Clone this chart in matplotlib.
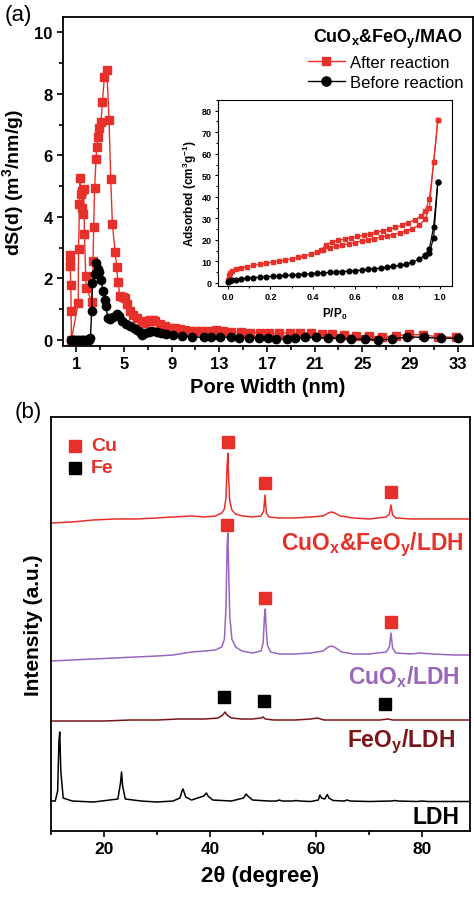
import matplotlib
matplotlib.use("Agg")
from matplotlib import pyplot as plt
from matplotlib.ticker import MultipleLocator, FormatStrFormatter

plt.rcParams['font.family'] = ['Liberation Sans', 'DejaVu Sans']
plt.rcParams['mathtext.fontset'] = 'custom'
plt.rcParams['mathtext.rm'] = 'Liberation Sans:bold'
plt.rcParams['mathtext.bf'] = 'Liberation Sans:bold'
plt.rcParams['mathtext.default'] = 'bf'

RED = '#e8302a'
PURPLE = '#9a66bd'
DARKRED = '#7a1518'

# ---- (a) pore size distribution ----
after_w = [0.45, 0.48, 0.5, 0.55, 0.58, 0.6, 1.17, 1.2, 1.28, 1.33, 1.38, 1.45, 1.5, 1.55, 1.62,
           1.7, 1.8, 1.86, 2.34, 2.42, 2.47, 2.55, 2.67, 2.72, 2.85, 2.93, 3.09, 3.2, 3.37, 3.57,
           3.76, 3.9, 4.04, 4.27, 4.41, 4.49, 4.68, 4.9, 5.1, 5.3, 5.5, 5.77, 6.1, 6.5, 6.78, 7.0,
           7.2, 7.45, 7.62, 8.03, 8.45, 8.87, 9.3, 9.7, 10.1, 10.55, 11.0, 11.5, 12.0, 12.7, 13.3,
           14.0, 14.8, 15.6, 16.4, 17.2, 18.0, 18.9, 19.8, 20.7, 21.6, 22.5, 23.5, 24.5, 25.6,
           26.7, 27.8, 28.9, 30.1, 31.4, 32.9]
after_ds = [2.75, 2.55, 2.4, 1.8, 0.95, 0.0, 1.2, 2.95, 4.42, 5.25, 4.75, 4.85, 4.3, 4.1, 4.9,
            3.45, 2.08, 1.68, 1.22, 2.55, 3.67, 4.95, 5.88, 6.27, 6.6, 6.89, 7.1, 7.75, 8.55, 8.79,
            7.16, 5.24, 3.77, 2.86, 2.37, 1.88, 1.44, 1.4, 1.35, 1.17, 0.95, 0.8, 0.72, 0.62, 0.55,
            0.6, 0.63, 0.63, 0.62, 0.5, 0.45, 0.4, 0.37, 0.35, 0.32, 0.3, 0.28, 0.28, 0.3, 0.32,
            0.3, 0.27, 0.24, 0.23, 0.22, 0.22, 0.22, 0.22, 0.22, 0.22, 0.2, 0.18, 0.16, 0.14, 0.12,
            0.1, 0.12, 0.18, 0.16, 0.1, 0.08]

before_w = [0.55, 0.7, 0.85, 1.0, 1.15, 1.3, 1.45, 1.6, 1.75, 1.9, 2.05, 2.2, 2.3, 2.35, 2.55,
            2.7, 2.8, 2.95, 3.1, 3.25, 3.4, 3.5, 3.65, 3.85, 4.1, 4.4, 4.6, 4.85, 5.2, 5.5, 5.85,
            6.1, 6.35, 6.5, 6.8, 7.1, 7.4, 7.75, 8.1, 8.5, 9.1, 9.9, 10.7, 11.7, 12.3, 13.1, 14.0,
            14.7, 15.5, 16.3, 17.1, 17.8, 18.7, 19.4, 20.2, 21.1, 22.1, 23.1, 24.1, 25.2, 26.3,
            27.5, 28.8, 30.2, 31.6, 33.0]
before_ds = [0.0, 0.0, 0.0, 0.0, 0.0, 0.0, 0.0, 0.0, 0.0, 0.0, 0.0, 0.05, 0.95, 1.85, 2.15,
             2.5, 2.3, 2.2, 1.95, 1.6, 1.3, 1.1, 0.72, 0.68, 0.75, 0.85, 0.78, 0.62, 0.52, 0.45,
             0.37, 0.32, 0.25, 0.17, 0.22, 0.27, 0.3, 0.27, 0.23, 0.2, 0.17, 0.13, 0.1, 0.08, 0.09,
             0.1, 0.08, 0.06, 0.06, 0.06, 0.06, 0.03, 0.03, 0.06, 0.08, 0.08, 0.06, 0.05, 0.03,
             0.02, 0.0, 0.02, 0.1, 0.08, 0.05, 0.05]

# ---- (a) inset: N2 isotherms ----
ads_p = [0.001, 0.005, 0.01, 0.02, 0.04, 0.06, 0.09, 0.12, 0.15, 0.18, 0.21, 0.24, 0.27, 0.30,
         0.33, 0.36, 0.39, 0.42, 0.45, 0.48, 0.51, 0.54, 0.57, 0.60, 0.63, 0.66, 0.69, 0.72,
         0.75, 0.78, 0.81, 0.84, 0.87, 0.90, 0.93, 0.95, 0.97, 0.99]
after_ads = [1.5, 3.5, 4.6, 5.6, 6.4, 7.0, 7.6, 8.2, 8.7, 9.2, 9.7, 10.2, 10.7, 11.3, 11.9, 12.6,
             13.3, 14.2, 15.4, 16.3, 17.0, 17.6, 18.2, 18.8, 19.4, 20.0, 20.6, 21.2, 21.8, 22.5,
             23.3, 24.2, 25.3, 26.8, 29.5, 35.0, 56.0, 75.5]
before_ads = [0.3, 0.7, 1.0, 1.3, 1.6, 1.9, 2.2, 2.5, 2.7, 2.9, 3.1, 3.3, 3.5, 3.7, 3.9, 4.1, 4.3,
              4.5, 4.7, 4.9, 5.1, 5.3, 5.5, 5.8, 6.0, 6.3, 6.6, 6.9, 7.3, 7.7, 8.2, 8.8, 9.6,
              11.0, 13.0, 16.0, 26.0, 47.0]
des_p = [0.99, 0.97, 0.95, 0.93, 0.91, 0.88, 0.85, 0.82, 0.79, 0.76, 0.73, 0.70, 0.67, 0.64,
         0.61, 0.58, 0.55, 0.52, 0.49, 0.46, 0.44]
after_des = [75.5, 56.0, 39.0, 33.5, 31.0, 29.3, 28.0, 26.8, 25.8, 25.0, 24.2, 23.5, 22.8, 22.2,
             21.6, 21.0, 20.4, 19.8, 19.0, 17.6, 15.2]
before_des_p = [0.99, 0.97, 0.95, 0.93]
before_des = [47.0, 21.0, 14.0, 12.5]

# ---- (b) XRD patterns (offset intensities, a.u.) ----
red_tt = [10, 14, 18, 22, 26, 30, 33, 36.5, 39, 41, 42.2, 42.7, 43.0, 43.2, 43.35, 43.5, 43.7,
          44.1, 44.8, 46, 48, 49.6, 50.1, 50.35, 50.6, 51.1, 53, 56, 59, 61.3, 62.3, 62.9, 63.5,
          64.5, 67, 70, 73.2, 73.8, 74.1, 74.4, 75, 78, 82, 86, 89]
red_i = [308, 309, 311, 312, 312, 313, 314, 315, 314, 315, 318, 322, 334, 365, 378, 352, 330,
         321, 317, 315, 314, 315, 320, 336, 318, 314, 313, 313, 314, 315, 318, 319, 318, 315,
         313, 312, 314, 317, 326, 316, 313, 312, 312, 312, 312]

pur_tt = [10, 14, 18, 22, 26, 30, 33, 36.5, 39, 41, 42.2, 42.7, 43.0, 43.2, 43.35, 43.5, 43.7,
          44.1, 44.8, 46, 48, 49.6, 50.0, 50.25, 50.4, 50.55, 50.8, 51.4, 53, 56, 59, 61.3, 62.3,
          63.0, 63.7, 64.8, 67, 70, 73.2, 73.8, 74.1, 74.4, 75, 78, 79.5, 82, 86, 89]
pur_i = [170, 171, 172, 173, 174, 175, 176, 179, 180, 181, 184, 192, 225, 285, 298, 260, 215,
         192, 184, 180, 178, 180, 188, 215, 222, 205, 186, 179, 177, 177, 178, 180, 184, 185,
         183, 179, 177, 177, 179, 184, 198, 183, 178, 177, 178, 177, 176, 176]

dr_tt = [10, 15, 20, 25, 30, 34, 36, 39, 41.5, 42.4, 42.8, 43.2, 44, 46, 48, 49.6, 50.0, 50.4,
         52, 56, 59, 60.2, 61.5, 64, 68, 72, 73.5, 74.5, 78, 84, 89]
dr_i = [110, 110, 110, 111, 111, 112, 112, 112, 113, 116, 119, 116, 113, 112, 112, 113, 114,
        112, 111, 111, 112, 113, 111, 111, 111, 111, 112, 111, 111, 111, 111]

ldh_tt = [10, 10.8, 11.25, 11.5, 11.65, 11.85, 12.3, 14, 18, 22.6, 23.1, 23.3, 23.5, 24.0, 27,
          30, 33, 34.3, 34.7, 34.9, 35.4, 36.5, 38.8, 39.3, 39.6, 40.5, 44, 46.3, 46.8, 47.1,
          48, 51, 52.5, 53.0, 53.6, 55.5, 56.2, 57, 59, 60.4, 60.7, 61.0, 61.6, 62.1, 62.4, 63.2,
          65.3, 65.8, 66.4, 70, 74.2, 74.8, 75.4, 79, 80, 81, 85, 89]
ldh_i = [30, 30, 40, 90, 99, 60, 33, 30, 29, 32, 48, 59, 45, 32, 30, 29, 30, 33, 40, 42, 34, 31,
         35, 38, 35, 31, 30, 33, 37, 35, 31, 30, 30, 31, 30, 30, 30.5, 30, 29.5, 31, 36, 33, 32,
         36.5, 33, 30.5, 30, 31, 30, 29.5, 30, 30.5, 30, 29.5, 30, 29.5, 29.5, 29.5]

cu_tt_top = [43.3, 50.4, 74.1]
cu_top_y = [389, 348, 339]
cu_tt_mid = [43.2, 50.4, 74.1]
cu_mid_y = [306, 233, 209]
fe_tt = [42.7, 50.2, 73.0]
fe_y = [134, 130, 127]

fig = plt.figure(figsize=(4.74, 9.12), dpi=100)

# ================= panel (a) =================
ax1 = fig.add_axes([0.133, 0.6195, 0.865, 0.3607])
ax1.plot(after_w, after_ds, '-s', color=RED, ms=5.5, lw=1.0, label='After reaction')
ax1.plot(before_w, before_ds, '-o', color='black', ms=6, lw=1.0, label='Before reaction')
ax1.set_xlim(-0.1, 34.3)
ax1.set_ylim(-0.2, 10.5)
ax1.set_xticks(list(range(1, 34, 4)))
ax1.set_xticks(list(range(3, 34, 4)), minor=True)
ax1.yaxis.set_major_locator(MultipleLocator(2))
ax1.yaxis.set_minor_locator(MultipleLocator(1))
ax1.tick_params(which='both', direction='out', width=1.2, labelsize=12)
ax1.tick_params(which='major', length=4)
ax1.tick_params(which='minor', length=3)
for lab in ax1.get_xticklabels() + ax1.get_yticklabels():
    lab.set_fontweight('bold')
for s in ax1.spines.values():
    s.set_linewidth(1.3)
ax1.set_xlabel('Pore Width (nm)', fontsize=14.5, fontweight='bold', labelpad=4)
ax1.set_ylabel('dS(d) (m$^{3}$/nm/g)', fontsize=14, fontweight='bold', labelpad=6)
leg = ax1.legend(loc='upper right', frameon=False, fontsize=12,
                 title='CuO$_x$&FeO$_y$/MAO', alignment='right',
                 handlelength=2.2, handletextpad=0.3, labelspacing=0.3,
                 borderaxespad=0.2, markerscale=1.1)
leg.get_title().set_fontsize(13)
leg.get_title().set_fontweight('bold')
fig.text(0.01, 0.983, '(a)', fontsize=16, va='center', ha='left')

# inset
ins = fig.add_axes([0.46, 0.6853, 0.4937, 0.204])
ins.plot(ads_p, after_ads, '-s', color=RED, ms=3, lw=0.9)
ins.plot(des_p, after_des, '-s', color=RED, ms=3, lw=0.9)
ins.plot(ads_p, before_ads, '-o', color='black', ms=3.4, lw=0.9)
ins.plot(before_des_p, before_des, '-o', color='black', ms=3.4, lw=0.9)
ins.set_xlim(-0.047, 1.057)
ins.set_ylim(-1.4, 85)
ins.xaxis.set_major_locator(MultipleLocator(0.2))
ins.xaxis.set_minor_locator(MultipleLocator(0.1))
ins.yaxis.set_major_locator(MultipleLocator(10))
ins.yaxis.set_minor_locator(MultipleLocator(5))
ins.xaxis.set_major_formatter(FormatStrFormatter('%.1f'))
ins.tick_params(which='both', direction='out', width=0.8, labelsize=6.5, pad=2)
ins.tick_params(which='major', length=2.5)
ins.tick_params(which='minor', length=1.5)
for lab in ins.get_xticklabels() + ins.get_yticklabels():
    lab.set_fontweight('bold')
for s in ins.spines.values():
    s.set_linewidth(0.8)
ins.set_xlabel('P/P$_0$', fontsize=8.5, fontweight='bold', labelpad=3)
ins.set_ylabel('Adsorbed (cm$^3$g$^{-1}$)', fontsize=8.5, fontweight='bold', labelpad=2)

# ================= panel (b) =================
ax2 = fig.add_axes([0.1076, 0.0877, 0.884, 0.454])
ax2.plot(red_tt, red_i, color=RED, lw=1.1)
ax2.plot(pur_tt, pur_i, color=PURPLE, lw=1.1)
ax2.plot(dr_tt, dr_i, color=DARKRED, lw=1.1)
ax2.plot(ldh_tt, ldh_i, color='black', lw=1.1)
ax2.plot(cu_tt_top, cu_top_y, 's', color=RED, ms=8.5, ls='none')
ax2.plot(cu_tt_mid, cu_mid_y, 's', color=RED, ms=8.5, ls='none')
ax2.plot(fe_tt, fe_y, 's', color='black', ms=8.5, ls='none')
ax2.set_xlim(10, 89)
ax2.set_ylim(0, 414)
ax2.set_yticks([])
ax2.xaxis.set_major_locator(MultipleLocator(20))
ax2.xaxis.set_minor_locator(MultipleLocator(10))
ax2.tick_params(which='both', direction='out', width=1.2, labelsize=12.5)
ax2.tick_params(which='major', length=4)
ax2.tick_params(which='minor', length=3)
for lab in ax2.get_xticklabels():
    lab.set_fontweight('bold')
for s in ax2.spines.values():
    s.set_linewidth(1.3)
ax2.set_xlabel('2θ (degree)', fontsize=16, fontweight='bold', labelpad=6)
ax2.set_ylabel('Intensity (a.u.)', fontsize=15, fontweight='bold', labelpad=6)

# sample names
ax2.text(0.985, 287 / 414, 'CuO$_x$&FeO$_y$/LDH', transform=ax2.transAxes, color=RED,
         fontsize=16.5, fontweight='bold', ha='right', va='center')
ax2.text(0.975, 155 / 414, 'CuO$_x$/LDH', transform=ax2.transAxes, color=PURPLE,
         fontsize=16.5, fontweight='bold', ha='right', va='center')
ax2.text(0.965, 90 / 414, 'FeO$_y$/LDH', transform=ax2.transAxes, color=DARKRED,
         fontsize=16.5, fontweight='bold', ha='right', va='center')
ax2.text(0.975, 15 / 414, 'LDH', transform=ax2.transAxes, color='black',
         fontsize=16.5, fontweight='bold', ha='right', va='center')

# phase key
ax2.plot([0.058], [0.93], 's', color=RED, ms=8.5, transform=ax2.transAxes)
ax2.plot([0.058], [0.877], 's', color='black', ms=8.5, transform=ax2.transAxes)
ax2.text(0.095, 0.93, 'Cu', transform=ax2.transAxes, color=RED, fontsize=14,
         fontweight='bold', va='center')
ax2.text(0.095, 0.877, 'Fe', transform=ax2.transAxes, color=RED, fontsize=14,
         fontweight='bold', va='center')
fig.text(0.03, 0.548, '(b)', fontsize=16, va='center', ha='left')

fig.savefig('out.png', dpi=100)
